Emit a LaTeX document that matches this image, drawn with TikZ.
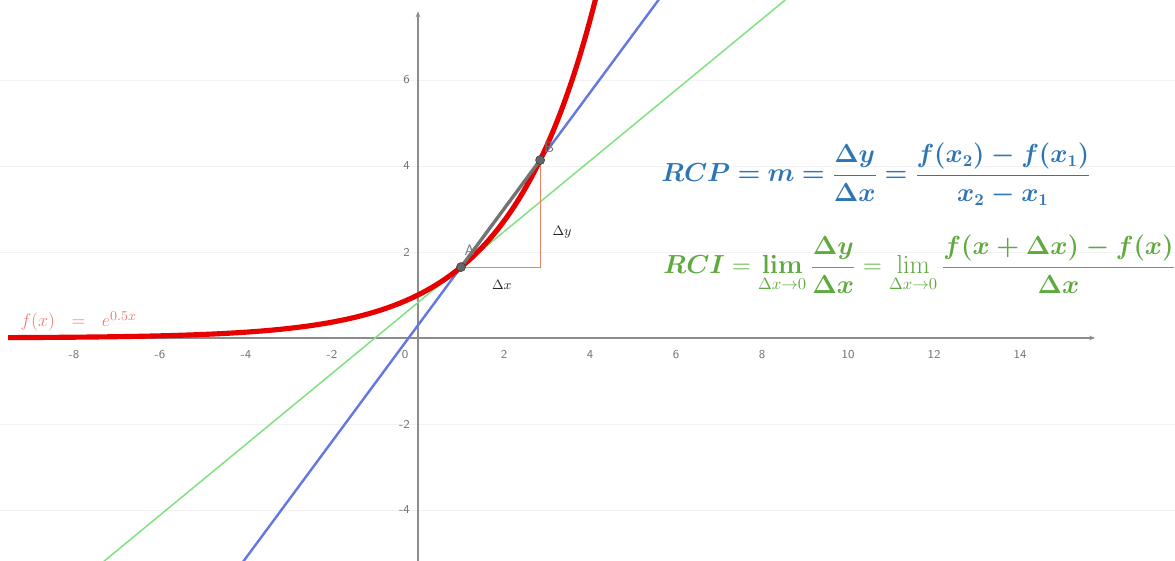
\documentclass[tikz,border=0pt]{standalone}
\usepackage{amsmath}
\usepackage{amssymb}
\usepackage{bm}
\usepackage{tikz}
\definecolor{curvered}{RGB}{230, 0, 0}
\definecolor{secantblue}{RGB}{100, 120, 225}
\definecolor{tangentgreen}{RGB}{130, 225, 130}
\definecolor{rcpblue}{RGB}{46, 117, 182}
\definecolor{rcigreen}{RGB}{95, 170, 60}
\definecolor{labelpink}{RGB}{240, 120, 120}
\definecolor{triorange}{RGB}{235, 130, 100}
\usetikzlibrary{
    arrows.meta,
    positioning,
    calc
}

\begin{document}
\begin{tikzpicture}[
    x=1cm, y=1cm,
    axis/.style={draw=black!45, line width=0.9pt, -{Stealth[length=4pt]}},
    gridline/.style={draw=black!5, line width=0.5pt},
    ticklabel/.style={font=\sffamily\footnotesize, text=black!55, inner sep=1pt},
    curve/.style={draw=curvered, line width=3.4pt},
    secantline/.style={draw=secantblue, line width=1.6pt},
    tangentline/.style={draw=tangentgreen, line width=1pt},
    secant/.style={draw=black!55, line width=2.2pt},
    triangle/.style={draw=triorange, line width=0.7pt},
    pointdot/.style={circle, fill=black!60, draw=black!75, inner sep=0pt, minimum size=6pt},
    pointlabel/.style={font=\sffamily, text=black!55},
    deltalabel/.style={font=\small, text=black!85},
    formula/.style={font=\fontsize{16}{19}\selectfont, anchor=base west, inner sep=0pt}
]
    \useasboundingbox (-9.721,-5.186) rectangle (17.605,7.860);
    \clip (-9.721,-5.186) rectangle (17.605,7.860);

    \foreach \y in {-4,-2,2,4,6}
        \draw[gridline] (-9.721,\y) -- (17.605,\y);

    \draw[axis] (-9.53,0) -- (15.75,0);
    \draw[axis] (0,-5.2) -- (0,7.6);

    \foreach \x in {-8,-6,-4,-2,2,4,6,8,10,12,14}
        \node[ticklabel] (xt\x) at (\x,-0.38) {\x};
    \node[ticklabel] (xt0) at (-0.3,-0.38) {0};
    \foreach \y in {-4,-2,2,4,6}
        \node[ticklabel, anchor=east] (yt\y) at (-0.15,\y) {\y};

    \coordinate (A) at (1,{exp(0.5)});
    \coordinate (B) at (2.84,{exp(1.42)});
    \coordinate (C) at (2.84,{exp(0.5)});

    \draw[tangentline] (-7.6,{0.824*(-7.6)+0.824}) -- (8.6,{0.824*8.6+0.824});
    \draw[secantline] ($(A)!-2.9!(B)$) -- ($(A)!2.6!(B)$);
    \draw[triangle] (A) -- (C) -- (B);
    \draw[curve, domain=-9.53:4.15, samples=120, smooth] plot (\x,{exp(0.5*\x)});
    \draw[secant] (A) -- (B);

    \node[pointdot] (ptA) at (A) {};
    \node[pointdot] (ptB) at (B) {};
    \node[pointlabel] (labA) at (1.2,2.03) {A};
    \node[pointlabel] (labB) at (3.05,4.43) {B};
    \node[deltalabel] (dy) at (3.35,2.47) {$\Delta y$};
    \node[deltalabel] (dx) at (1.95,1.24) {$\Delta x$};

    \node[font=\fontsize{13}{15}\selectfont, text=labelpink, anchor=base west, inner sep=0pt] (flabel) at (-9.25,0.26) {$f(x)\ \;=\ \; e^{0.5x}$};

    \node[formula, text=rcpblue] (rcp) at (5.65,3.63)
        {$\displaystyle \bm{RCP = m = \frac{\Delta y}{\Delta x} = \frac{f(x_2)-f(x_1)}{x_2-x_1}}$};
    \node[formula, text=rcigreen] (rci) at (5.7,1.49)
        {$\displaystyle \bm{RCI} = \mathop{\bm{\lim}}_{\Delta x\to 0}\bm{\frac{\Delta y}{\Delta x}} = \lim_{\Delta x\to 0}\bm{\frac{f(x+\Delta x)-f(x)}{\Delta x}}$};
\end{tikzpicture}
\end{document}
